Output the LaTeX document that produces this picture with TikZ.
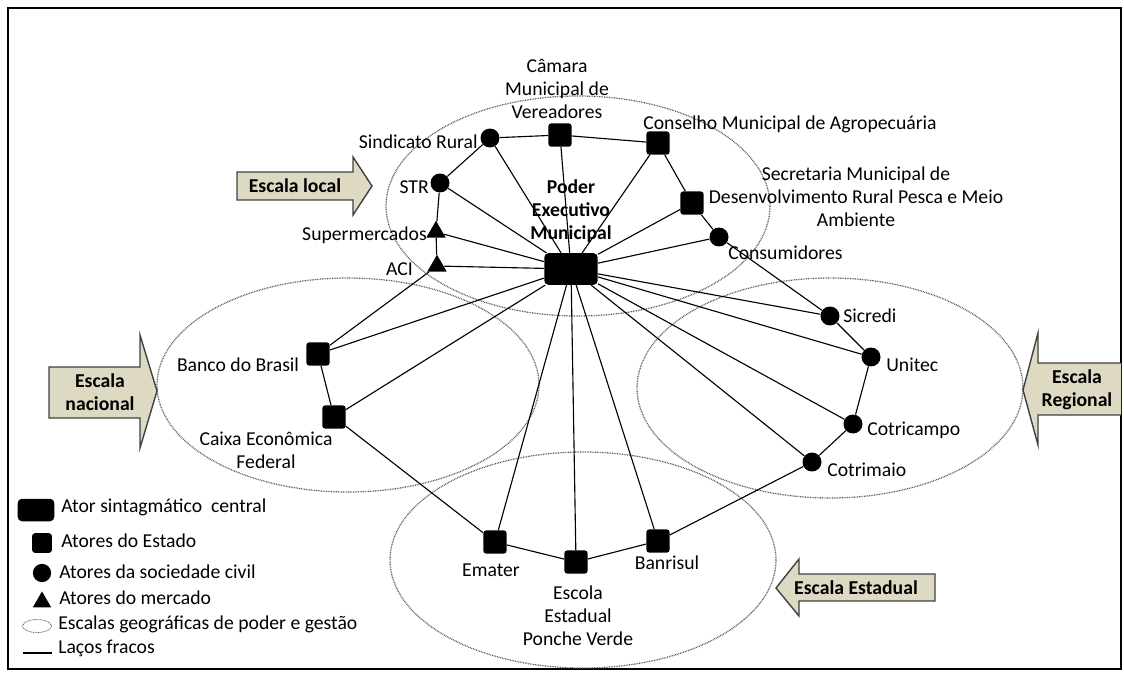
\documentclass[tikz,border=0pt]{standalone}
\usepackage{fontspec}
\setmainfont{Carlito}
\usetikzlibrary{shapes.geometric}
\definecolor{escalafill}{HTML}{DDD9C3}
\definecolor{escalaborda}{HTML}{404040}

\begin{document}
\begin{tikzpicture}[x=0.025cm, y=-0.025cm,
    every node/.style={font=\fontsize{14}{16.5}\selectfont},
    central/.style={rectangle, rounded corners=3pt, fill=black, minimum width=38pt, minimum height=22.5pt, inner sep=0pt},
    estado/.style={rectangle, rounded corners=2pt, fill=black, minimum size=16.5pt, inner sep=0pt},
    civil/.style={circle, fill=black, minimum size=13.5pt, inner sep=0pt},
    mercado/.style={regular polygon, regular polygon sides=3, fill=black, minimum size=16pt, inner sep=0pt},
    rotulo/.style={align=center, inner sep=0pt},
    escala/.style={black!65, line width=0.9pt, dash pattern=on 0.6pt off 0.6pt},
    laco/.style={line width=0.8pt},
    seta/.style={fill=escalafill, draw=escalaborda, line width=1pt, line join=miter},
    setatexto/.style={font=\fontsize{14}{16.5}\selectfont\bfseries, align=center, inner sep=0pt}]
    \useasboundingbox (0,0) rectangle (1124,672);
    \draw[line width=1.2pt] (8,8) rectangle (1121,669);

    % Escalas geograficas
    \draw[escala] (578,206) ellipse [x radius=192, y radius=110];
    \draw[escala] (348,385) ellipse [x radius=191, y radius=107];
    \draw[escala] (830,388) ellipse [x radius=193, y radius=110];
    \draw[escala] (583,560) ellipse [x radius=193, y radius=108];

    % Setas das escalas
    \draw[seta] (237,172) -- (353,172) -- (353,157) -- (372,186) -- (353,215) -- (353,200) -- (237,200) -- cycle;
    \node[setatexto] (t-local) at (295,186) {Escala local};
    \draw[seta] (49,367) -- (140,367) -- (140,335) -- (157,391) -- (140,448) -- (140,418) -- (49,418) -- cycle;
    \node[setatexto] (t-nacional) at (100,392) {Escala\\nacional};
    \draw[seta] (1121,363) -- (1038,363) -- (1038,333) -- (1023,390) -- (1038,445) -- (1038,415) -- (1121,415);
    \node[setatexto] (t-regional) at (1077,390) {Escala\\Regional};
    \draw[seta] (935,574) -- (799,574) -- (799,559) -- (776,588) -- (799,616) -- (799,601) -- (935,601) -- cycle;
    \node[setatexto] (t-estadual) at (856,588) {Escala Estadual};

    % Atores
    \node[central] (pem) at (571,269) {};
    \node[estado] (camara) at (560,135) {};
    \node[civil] (sindicato) at (490,138) {};
    \node[estado] (conselho) at (658,143) {};
    \node[estado] (secretaria) at (692,203) {};
    \node[civil] (consumidores) at (719,237) {};
    \node[civil] (str) at (440,183) {};
    \node[mercado] (supermercados) at (436,232) {};
    \node[mercado] (aci) at (437,266) {};
    \node[estado] (bb) at (318,354) {};
    \node[estado] (caixa) at (334,417) {};
    \node[estado] (emater) at (495,542) {};
    \node[estado] (escola) at (576,562) {};
    \node[estado] (banrisul) at (658,541) {};
    \node[civil] (cotrimaio) at (812,462) {};
    \node[civil] (cotricampo) at (853,424) {};
    \node[civil] (unitec) at (871,357) {};
    \node[civil] (sicredi) at (830,316) {};

    % Rotulos
    \node[rotulo, font=\fontsize{14}{16.5}\selectfont\bfseries] (l-pem) at (571,211) {Poder\\Executivo\\Municipal};
    \node[rotulo] (l-camara) at (557,89) {Câmara\\Municipal de\\Vereadores};
    \node[rotulo, anchor=east] (l-sindicato) at (478,142) {Sindicato Rural};
    \node[rotulo] (l-conselho) at (790,124) {Conselho Municipal de Agropecuária};
    \node[rotulo] (l-secretaria) at (856,197) {Secretaria Municipal de\\Desenvolvimento Rural Pesca e Meio\\Ambiente};
    \node[rotulo, anchor=west] (l-consumidores) at (728,253) {Consumidores};
    \node[rotulo, anchor=east] (l-str) at (429,187) {STR};
    \node[rotulo, anchor=east] (l-supermercados) at (427,235) {Supermercados};
    \node[rotulo, anchor=east] (l-aci) at (413,269) {ACI};
    \node[rotulo] (l-bb) at (238,365) {Banco do Brasil};
    \node[rotulo] (l-caixa) at (266,450) {Caixa Econômica\\Federal};
    \node[rotulo] (l-emater) at (491,570) {Emater};
    \node[rotulo] (l-escola) at (578,616) {Escola\\Estadual\\Ponche Verde};
    \node[rotulo] (l-banrisul) at (667,563) {Banrisul};
    \node[rotulo, anchor=west] (l-cotrimaio) at (827,470) {Cotrimaio};
    \node[rotulo, anchor=west] (l-cotricampo) at (867,430) {Cotricampo};
    \node[rotulo, anchor=west] (l-unitec) at (886,365) {Unitec};
    \node[rotulo, anchor=west] (l-sicredi) at (843,316) {Sicredi};

    % Lacos com o ator central
    \draw[laco] (pem) -- (camara);
    \draw[laco] (pem) -- (sindicato);
    \draw[laco] (pem) -- (str);
    \draw[laco] (pem) -- (supermercados);
    \draw[laco] (pem) -- (aci);
    \draw[laco] (pem) -- (conselho);
    \draw[laco] (pem) -- (secretaria);
    \draw[laco] (pem) -- (consumidores);
    \draw[laco] (pem) -- (sicredi);
    \draw[laco] (pem) -- (unitec);
    \draw[laco] (pem) -- (cotricampo);
    \draw[laco] (pem) -- (cotrimaio);
    \draw[laco] (pem) -- (banrisul);
    \draw[laco] (pem) -- (escola);
    \draw[laco] (pem) -- (emater);
    \draw[laco] (pem) -- (caixa);
    \draw[laco] (pem) -- (bb);

    % Lacos entre atores
    \draw[laco] (str) -- (sindicato);
    \draw[laco] (sindicato) -- (camara);
    \draw[laco] (camara) -- (conselho);
    \draw[laco] (conselho) -- (secretaria);
    \draw[laco] (secretaria) -- (consumidores);
    \draw[laco] (consumidores) -- (sicredi);
    \draw[laco] (sicredi) -- (unitec);
    \draw[laco] (unitec) -- (cotricampo);
    \draw[laco] (cotricampo) -- (cotrimaio);
    \draw[laco] (cotrimaio) -- (banrisul);
    \draw[laco] (banrisul) -- (escola);
    \draw[laco] (escola) -- (emater);
    \draw[laco] (emater) -- (caixa);
    \draw[laco] (caixa) -- (bb);
    \draw[laco] (bb) -- (aci);
    \draw[laco] (aci) -- (supermercados);
    \draw[laco] (supermercados) -- (str);

    % Legenda
    \node[central, minimum width=26pt, minimum height=16pt] (g-central) at (36,510) {};
    \node[rotulo, anchor=west] (gl-central) at (61,507) {Ator sintagmático~ central};
    \node[estado, minimum size=14pt] (g-estado) at (42,543) {};
    \node[rotulo, anchor=west] (gl-estado) at (61,541) {Atores do Estado};
    \node[civil, minimum size=13pt] (g-civil) at (42,573) {};
    \node[rotulo, anchor=west] (gl-civil) at (59,572) {Atores da sociedade civil};
    \node[mercado, minimum size=15pt] (g-mercado) at (42,602) {};
    \node[rotulo, anchor=west] (gl-mercado) at (59,598) {Atores do mercado};
    \draw[escala, line width=0.6pt] (37,626) ellipse [x radius=14.5, y radius=6.5];
    \node[rotulo, anchor=west] (gl-escala) at (58,624) {Escalas geográficas de poder e gestão};
    \draw[laco] (23,653) -- (52,653);
    \node[rotulo, anchor=west] (gl-laco) at (58,648) {Laços fracos};
\end{tikzpicture}
\end{document}
